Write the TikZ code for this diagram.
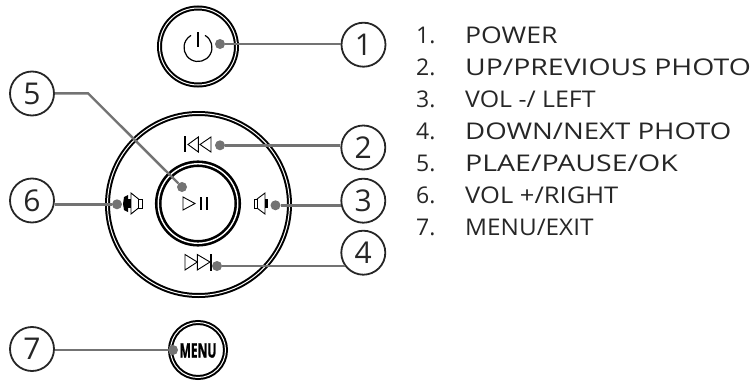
\documentclass[tikz,border=0pt]{standalone}
\usepackage{fontspec}
\setmainfont{Open Sans}
\tikzset{
	ring/.style={circle,draw,double,line width=2pt,double distance=1pt,inner sep=0pt},
	callout/.style={circle,draw=black!85,line width=1.8pt,minimum size=44pt,inner sep=0pt,font=\fontsize{30}{30}\selectfont,text=black!85},
	dot/.style={circle,fill=black!55,minimum size=10pt,inner sep=0pt},
	leader/.style={draw=black!55,line width=2.4pt},
	icon/.style={draw=black,line width=.9pt},
	legend/.style={anchor=base west,inner sep=0pt,font=\fontsize{23}{24}\selectfont,text=black!85},
}
\begin{document}
\begin{tikzpicture}[x=1pt,y=-1pt]
	\useasboundingbox (0,0) rectangle (756,383);
	% rings
	\node [ring,minimum size=77pt] (power) at (198,46.5) {};
	\node [ring,minimum size=182pt] (wheel) at (198.5,204.5) {};
	\node [ring,line width=2.6pt,double distance=1.4pt,minimum size=79.5pt] (center) at (198,203.5) {};
	\node [ring,minimum size=55pt] (menu) at (198,350) {};
	\node [xscale=.6,font=\bfseries\fontsize{20}{20}\selectfont] (menutext) at (198,350.5) {\addfontfeature{FakeBold=1.5}MENU};
	% icons
	\draw [icon,line width=1.2pt] (205,35.4) arc [start angle=60,end angle=-240,radius=14pt];
	\draw [icon,line width=1.2pt] (198,32) -- (198,46.5);
	\draw [icon,line width=1.3pt] (185,136) -- (185,152);
	\draw [icon] (198.3,137) -- (188,144.5) -- (198.3,152) -- cycle;
	\draw [icon] (211,137) -- (200,144.5) -- (211,152) -- cycle;
	\draw [icon,line width=1.3pt] (211,254) -- (211,270.5);
	\draw [icon] (185,254.5) -- (197.3,262) -- (185,270) -- cycle;
	\draw [icon] (197.3,254.5) -- (210,262) -- (197.3,270) -- cycle;
	\draw [icon] (183,197) -- (195,203.5) -- (183,210) -- cycle;
	\draw [icon,line width=1.6pt] (201,197) -- (201,210);
	\draw [icon,line width=1.6pt] (207,197) -- (207,210);
	\draw [icon] (254,199) rectangle (257,208);
	\draw [icon] (257,199) -- (265,193) -- (265,214) -- (257,208);
	\fill (265,199) rectangle (268,208);
	\draw [icon] (138.5,199) rectangle (142.3,208);
	\draw [icon] (138.5,199) -- (131,193) -- (131,214) -- (138.5,208);
	\fill (128,199) rectangle (131,208);
	\fill (128,195) -- (124,197) -- (123,204) -- (124,210) -- (128,212) -- cycle;
	% dots
	\node [dot] (dotone) at (220,44) {};
	\node [dot] (dottwo) at (220,145.3) {};
	\node [dot] (dotthree) at (275.5,205.3) {};
	\node [dot] (dotfour) at (217,266) {};
	\node [dot] (dotfive) at (182,187) {};
	\node [dot] (dotsix) at (117,204.3) {};
	\node [dot] (dotseven) at (173,350) {};
	\coordinate (bendfive) at (88,93.3);
	% callouts
	\node [callout] (one) at (363.5,44.7) {1};
	\node [callout] (two) at (363.3,147.5) {2};
	\node [callout] (three) at (363.3,200.7) {3};
	\node [callout] (four) at (363.3,252.7) {4};
	\node [callout] (five) at (32,93.5) {5};
	\node [callout] (six) at (32,200.5) {6};
	\node [callout] (seven) at (32,349) {7};
	% connectors
	\draw [leader] (dotone) -- (dotone -| one.west);
	\draw [leader] (dottwo) -- (dottwo -| two.west);
	\draw [leader] (dotthree) -- (dotthree -| three.192);
	\draw [leader] (dotfour) -- (dotfour -| four.215);
	\draw [leader] (five) -- (bendfive) -- (dotfive);
	\draw [leader] (dotsix) -- (dotsix -| six.east);
	\draw [leader] (dotseven) -- (dotseven -| seven.east);
	% legend
	\foreach \s/\t [count=\n] in {1.157/POWER,1.234/{UP/PREVIOUS PHOTO},1.083/{VOL -/ LEFT},1.2/{DOWN/NEXT PHOTO},1.24/{PLAE/PAUSE/OK},1.11/{VOL +/RIGHT},1.058/{MENU/EXIT}} {
		\node [legend] (num\n) at (416,11.2+\n*32.1) {\n.};
		\node [legend] (item\n) at (465,11.2+\n*32.1) {\addfontfeature{FakeStretch=\s}\t};
	}
\end{tikzpicture}
\end{document}
